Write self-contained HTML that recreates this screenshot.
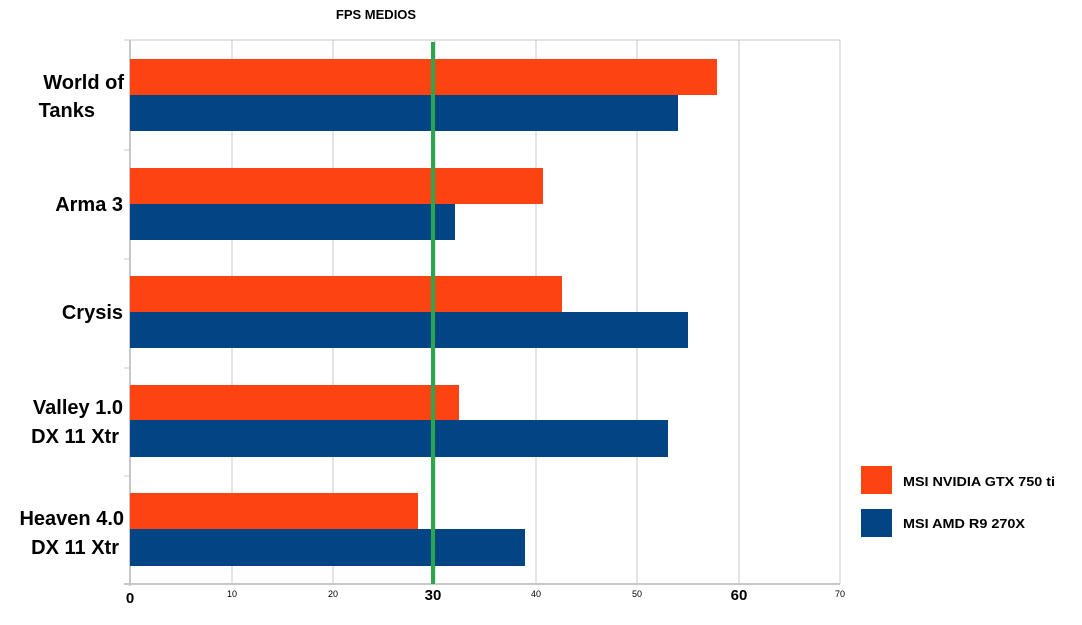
<!DOCTYPE html>
<html><head><style>
body{margin:0;background:#fff;width:1082px;height:620px;overflow:hidden;font-family:"Liberation Sans",sans-serif}
</style></head><body>
<svg width="1082" height="620" xmlns="http://www.w3.org/2000/svg" font-family="Liberation Sans, sans-serif">
<rect width="1082" height="620" fill="#fff"/>
<text x="376" y="19" font-size="13" font-weight="bold" text-anchor="middle">FPS MEDIOS</text>
<g stroke="#c8c8c8" stroke-width="1">
<line x1="130.5" y1="40" x2="840" y2="40"/>
<line x1="232" y1="40" x2="232" y2="584"/>
<line x1="333" y1="40" x2="333" y2="584"/>
<line x1="435" y1="40" x2="435" y2="584"/>
<line x1="536" y1="40" x2="536" y2="584"/>
<line x1="637" y1="40" x2="637" y2="584"/>
<line x1="739" y1="40" x2="739" y2="584"/>
<line x1="840" y1="40" x2="840" y2="584"/>
<line x1="124" y1="40" x2="130" y2="40"/>
<line x1="124" y1="150" x2="130" y2="150"/>
<line x1="124" y1="259" x2="130" y2="259"/>
<line x1="124" y1="368" x2="130" y2="368"/>
<line x1="124" y1="476" x2="130" y2="476"/>
</g>
<line x1="130" y1="40" x2="130" y2="586" stroke="#c8c8c8" stroke-width="2"/>
<line x1="124" y1="584" x2="840" y2="584" stroke="#c8c8c8" stroke-width="2"/>
<g>
<rect x="130" y="59" width="587" height="36" fill="#fd4312"/>
<rect x="130" y="95" width="548" height="36" fill="#024484"/>
<rect x="130" y="168" width="413" height="36" fill="#fd4312"/>
<rect x="130" y="204" width="325" height="36" fill="#024484"/>
<rect x="130" y="276" width="432" height="36" fill="#fd4312"/>
<rect x="130" y="312" width="558" height="36" fill="#024484"/>
<rect x="130" y="385" width="329" height="35" fill="#fd4312"/>
<rect x="130" y="420" width="538" height="37" fill="#024484"/>
<rect x="130" y="493" width="288" height="36" fill="#fd4312"/>
<rect x="130" y="529" width="395" height="37" fill="#024484"/>
</g>
<rect x="431" y="42" width="4" height="542" fill="#2ca64c"/>
<g font-size="20" font-weight="bold" fill="#000" text-anchor="end">
<text x="124" y="89">World of</text>
<text x="95" y="117">Tanks</text>
<text x="123" y="211">Arma 3</text>
<text x="123" y="319">Crysis</text>
<text x="123" y="414">Valley 1.0</text>
<text x="119" y="443">DX 11 Xtr</text>
<text x="124" y="525">Heaven 4.0</text>
<text x="119" y="554">DX 11 Xtr</text>
</g>
<g font-size="9" fill="#000" text-anchor="middle">
<text x="232" y="597">10</text><text x="333" y="597">20</text><text x="536" y="597">40</text><text x="637" y="597">50</text><text x="840" y="597">70</text>
</g>
<g font-size="15" font-weight="bold" fill="#000" text-anchor="middle">
<text x="130" y="603">0</text><text x="433" y="600">30</text><text x="739" y="600">60</text>
</g>
<rect x="861" y="466" width="31" height="28" fill="#fd4312"/>
<rect x="861" y="509" width="31" height="28" fill="#024484"/>
<g font-size="13" font-weight="bold" fill="#000">
<text x="903" y="486" textLength="152" lengthAdjust="spacingAndGlyphs">MSI NVIDIA GTX 750 ti</text>
<text x="903" y="528" textLength="122" lengthAdjust="spacingAndGlyphs">MSI AMD R9 270X</text>
</g>
</svg>
</body></html>
